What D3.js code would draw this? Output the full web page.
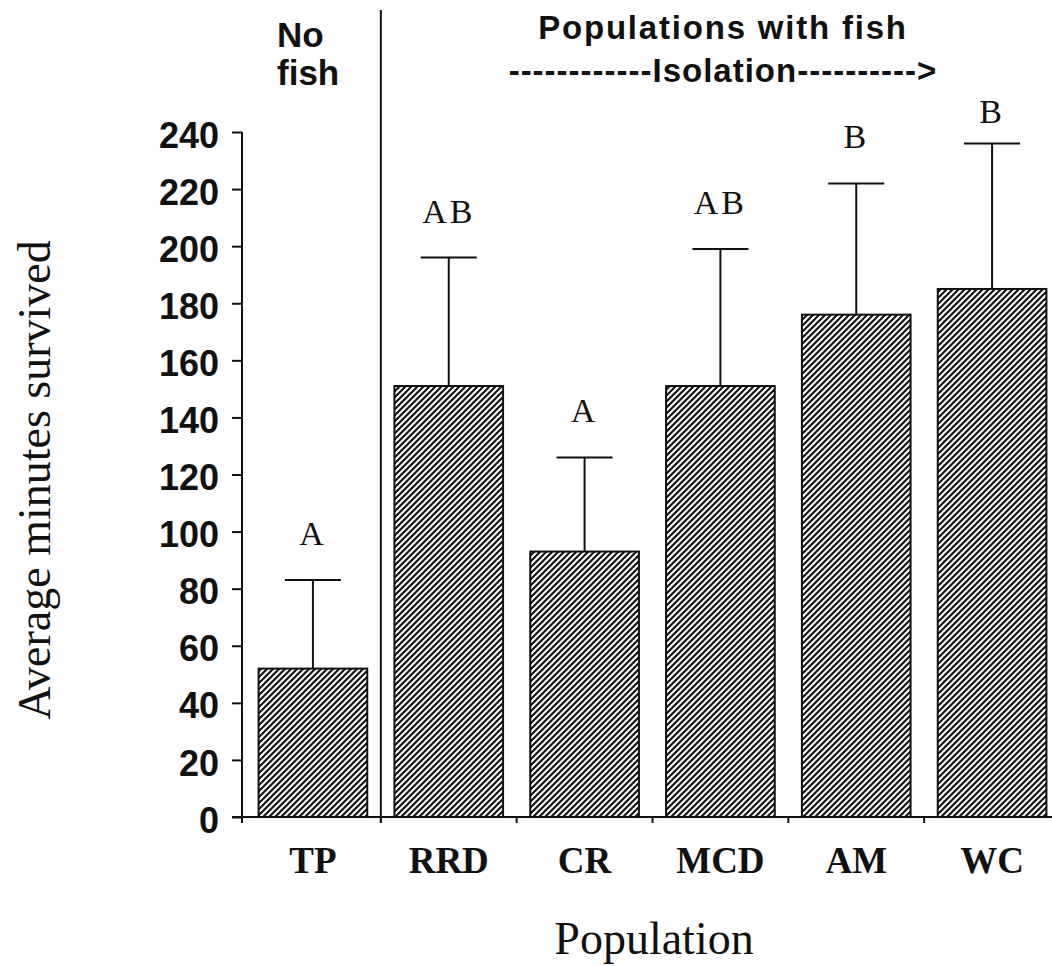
<!DOCTYPE html>
<html>
<head>
<meta charset="utf-8">
<script src="https://cdn.jsdelivr.net/npm/d3@7"></script>
<style>
  body { margin: 0; background: #fff; }
  svg { display: block; }
  .sans { font-family: "Liberation Sans", Arial, sans-serif; font-weight: bold; fill: #111; }
  .serif { font-family: "Liberation Serif", "Times New Roman", serif; fill: #111; }
</style>
</head>
<body>
<div id="chart"></div>
<script>
// data
var populations = ["TP", "RRD", "CR", "MCD", "AM", "WC"];
var meanMinutes = [52, 151, 93, 151, 176, 185];
var stdError = [31, 45, 33, 48, 46, 51];
var groupLetters = ["A", "AB", "A", "AB", "B", "B"];
var yTicks = [0, 20, 40, 60, 80, 100, 120, 140, 160, 180, 200, 220, 240];

var svgWidth = 1052;
var svgHeight = 966;

var rows = populations.map(function(p, i) {
  return { pop: p, mean: meanMinutes[i], se: stdError[i], letter: groupLetters[i] };
});

var svg = d3.select("#chart")
  .append("svg")
  .attr("width", svgWidth)
  .attr("height", svgHeight);

// hatch pattern for the bars
var defs = svg.append("defs");
defs.append("pattern")
  .attr("id", "hatch")
  .attr("patternUnits", "userSpaceOnUse")
  .attr("width", 6)
  .attr("height", 6)
  .append("path")
  .attr("d", "M-1,1 l2,-2 M0,6 l6,-6 M5,7 l2,-2")
  .attr("stroke", "#111")
  .attr("stroke-width", 2.1);

// scales
var yScale = d3.scaleLinear()
  .domain([0, 240])
  .range([817, 132]);

var xScale = d3.scaleBand()
  .domain(populations)
  .range([245, 1060])
  .paddingInner(0.2)
  .paddingOuter(0.1);

var x0 = xScale.range()[0];
var step = xScale.step();
var divideX = x0 + step;

// y axis ticks and labels
var leftAxis = d3.axisLeft(yScale)
  .tickValues(yTicks)
  .tickSize(10)
  .tickSizeOuter(0)
  .tickPadding(13);

var yAxisG = svg.append("g")
  .attr("transform", "translate(242, 0)")
  .call(leftAxis);
yAxisG.select(".domain").remove();
yAxisG.selectAll("line").attr("stroke", "#111").attr("stroke-width", 2);
yAxisG.selectAll("text")
  .attr("class", "sans")
  .attr("font-size", 36)
  .attr("dy", "0.42em");

// axis lines
svg.append("line")
  .attr("x1", 242).attr("x2", 242)
  .attr("y1", yScale(240)).attr("y2", yScale(0) + 6)
  .attr("stroke", "#111").attr("stroke-width", 2);

svg.append("line")
  .attr("x1", 232).attr("x2", svgWidth)
  .attr("y1", yScale(0)).attr("y2", yScale(0))
  .attr("stroke", "#111").attr("stroke-width", 2);

// category boundary ticks on the x axis
var boundaries = d3.range(1, populations.length).map(function(i) { return x0 + i * step; });
svg.selectAll(".xTick")
  .data(boundaries)
  .enter()
  .append("line")
  .attr("class", "xTick")
  .attr("x1", function(d) { return d; })
  .attr("x2", function(d) { return d; })
  .attr("y1", yScale(0))
  .attr("y2", yScale(0) + 6)
  .attr("stroke", "#111")
  .attr("stroke-width", 2);

// divider between no-fish and fish populations
svg.append("line")
  .attr("x1", divideX).attr("x2", divideX)
  .attr("y1", 10).attr("y2", yScale(0) + 6)
  .attr("stroke", "#111").attr("stroke-width", 2);

// x axis labels
var bottomAxis = d3.axisBottom(xScale)
  .tickSize(0)
  .tickPadding(30);

var xAxisG = svg.append("g")
  .attr("transform", "translate(0, " + yScale(0) + ")")
  .call(bottomAxis);
xAxisG.select(".domain").remove();
xAxisG.selectAll("text")
  .attr("class", "serif")
  .attr("font-size", 37)
  .attr("font-weight", "bold");

// bars
svg.selectAll(".bar")
  .data(rows)
  .enter()
  .append("rect")
  .attr("class", "bar")
  .attr("x", function(d) { return xScale(d.pop); })
  .attr("width", xScale.bandwidth())
  .attr("y", function(d) { return yScale(d.mean); })
  .attr("height", function(d) { return yScale(0) - yScale(d.mean); })
  .attr("fill", "url(#hatch)")
  .attr("stroke", "#111")
  .attr("stroke-width", 2);

// error bars (upper only)
var errG = svg.selectAll(".err")
  .data(rows)
  .enter()
  .append("g")
  .attr("class", "err")
  .attr("stroke", "#111")
  .attr("stroke-width", 2);

errG.append("line")
  .attr("x1", function(d) { return xScale(d.pop) + xScale.bandwidth() / 2; })
  .attr("x2", function(d) { return xScale(d.pop) + xScale.bandwidth() / 2; })
  .attr("y1", function(d) { return yScale(d.mean); })
  .attr("y2", function(d) { return yScale(d.mean + d.se); });

errG.append("line")
  .attr("x1", function(d) { return xScale(d.pop) + xScale.bandwidth() / 2 - 28; })
  .attr("x2", function(d) { return xScale(d.pop) + xScale.bandwidth() / 2 + 28; })
  .attr("y1", function(d) { return yScale(d.mean + d.se); })
  .attr("y2", function(d) { return yScale(d.mean + d.se); });

// significance letters
svg.selectAll(".letter")
  .data(rows)
  .enter()
  .append("text")
  .attr("class", "letter serif")
  .attr("x", function(d) { return xScale(d.pop) + xScale.bandwidth() / 2; })
  .attr("y", function(d) { return Math.max(yScale(d.mean + d.se) - 35, yScale(243)); })
  .attr("text-anchor", "middle")
  .attr("font-size", 34)
  .attr("letter-spacing", 3)
  .text(function(d) { return d.letter; });

// header texts
svg.append("text")
  .attr("class", "sans")
  .attr("x", 277).attr("y", 47)
  .attr("font-size", 35)
  .text("No");
svg.append("text")
  .attr("class", "sans")
  .attr("x", 277).attr("y", 85)
  .attr("font-size", 35)
  .text("fish");

svg.append("text")
  .attr("class", "sans")
  .attr("x", 723).attr("y", 39)
  .attr("text-anchor", "middle")
  .attr("font-size", 33)
  .attr("letter-spacing", 1.8)
  .text("Populations with fish");
svg.append("text")
  .attr("class", "sans")
  .attr("x", 723).attr("y", 82)
  .attr("text-anchor", "middle")
  .attr("font-size", 33)
  .attr("letter-spacing", 1.0)
  .text("------------Isolation---------->");

// axis titles
svg.append("text")
  .attr("class", "serif")
  .attr("transform", "translate(50, 480) rotate(-90)")
  .attr("text-anchor", "middle")
  .attr("font-size", 46)
  .text("Average minutes survived");

svg.append("text")
  .attr("class", "serif")
  .attr("x", 654).attr("y", 954)
  .attr("text-anchor", "middle")
  .attr("font-size", 46)
  .text("Population");
</script>
</body>
</html>
